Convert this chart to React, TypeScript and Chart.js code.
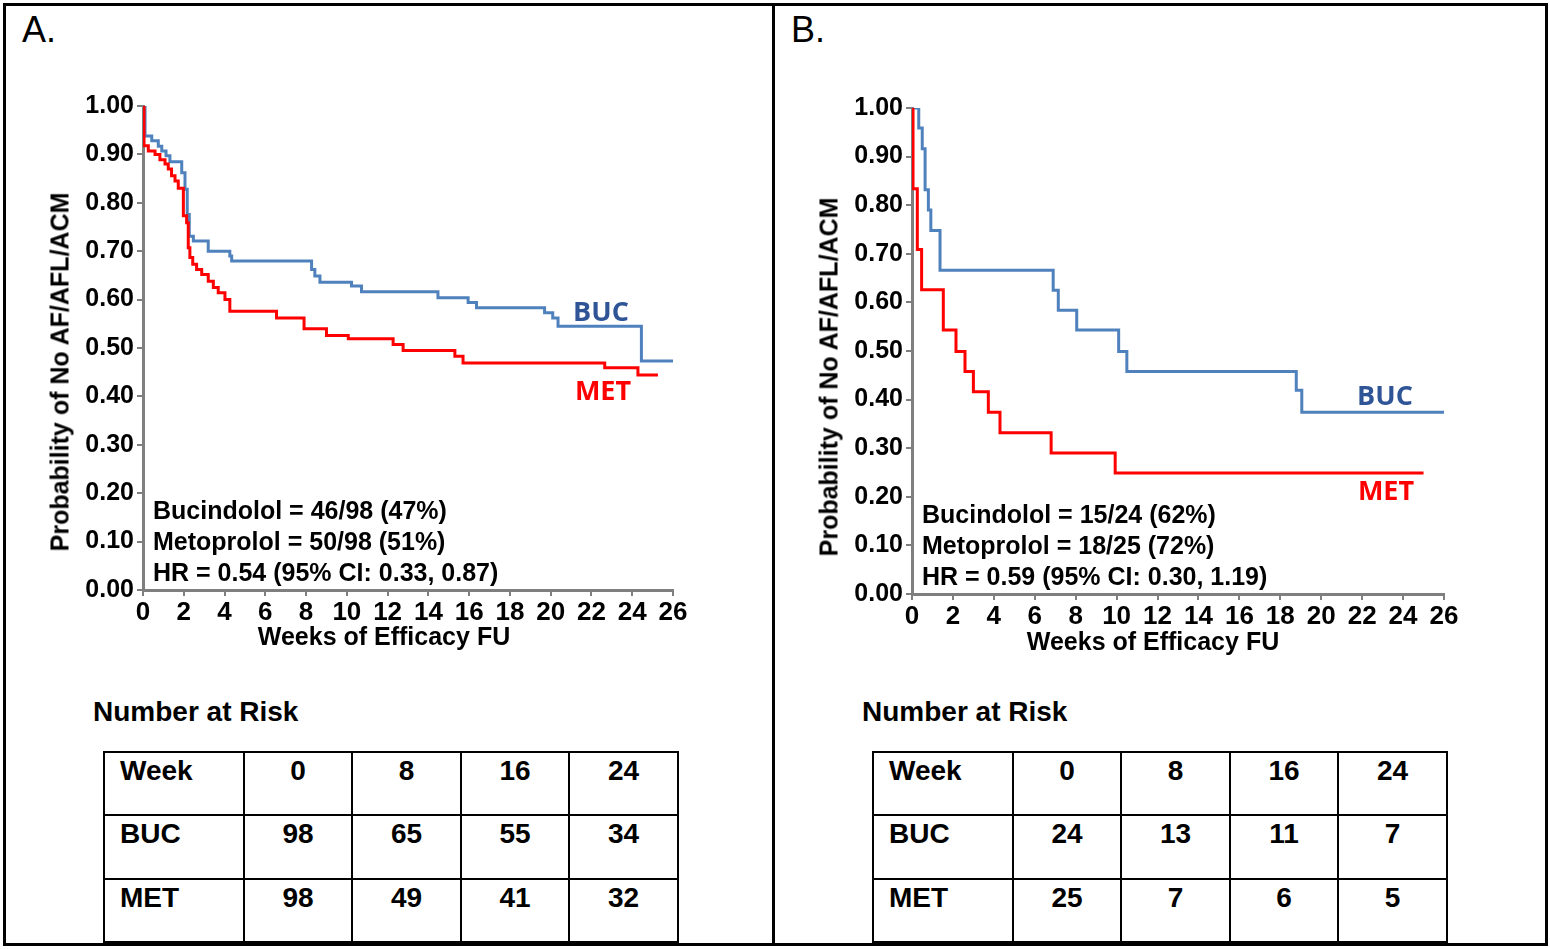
import React, { useEffect, useRef } from 'react';
import { Chart, registerables } from 'chart.js';

Chart.register(...registerables);

// ---------- data ----------
const xTickValues = [0, 2, 4, 6, 8, 10, 12, 14, 16, 18, 20, 22, 24, 26];
const yTickValues = [0, 0.1, 0.2, 0.3, 0.4, 0.5, 0.6, 0.7, 0.8, 0.9, 1.0];
const yTickLabels = ['0.00', '0.10', '0.20', '0.30', '0.40', '0.50', '0.60', '0.70', '0.80', '0.90', '1.00'];

// Panel A: Kaplan-Meier (weeks, survival after event)
const aBucWeeks = [0, 0.1, 0.43, 0.75, 0.92, 1.13, 1.32, 1.9, 2.06, 2.17, 2.27, 2.47, 3.2, 4.26, 4.35, 8.27, 8.43, 8.68, 10.23, 10.72, 14.47, 15.95, 16.36, 19.7, 20.1, 20.36, 24.45, 26.0];
const aBucSurv = [1.0, 0.938, 0.928, 0.917, 0.907, 0.897, 0.885, 0.862, 0.828, 0.776, 0.731, 0.721, 0.7, 0.69, 0.68, 0.662, 0.649, 0.636, 0.628, 0.616, 0.604, 0.594, 0.583, 0.573, 0.562, 0.545, 0.473, 0.473];
const aMetWeeks = [0, 0.05, 0.26, 0.59, 0.83, 1.08, 1.24, 1.4, 1.57, 1.73, 1.98, 2.14, 2.22, 2.3, 2.44, 2.63, 2.88, 3.2, 3.45, 3.69, 4.02, 4.26, 6.55, 7.9, 9.0, 10.07, 12.27, 12.76, 15.3, 15.7, 22.65, 24.28, 25.26];
const aMetSurv = [1.0, 0.918, 0.907, 0.9, 0.889, 0.88, 0.87, 0.856, 0.845, 0.83, 0.773, 0.759, 0.707, 0.687, 0.673, 0.662, 0.652, 0.638, 0.625, 0.614, 0.6, 0.576, 0.562, 0.54, 0.526, 0.519, 0.507, 0.495, 0.483, 0.469, 0.459, 0.444, 0.444];

// Panel B
const bBucWeeks = [0, 0.33, 0.5, 0.64, 0.8, 0.92, 1.37, 6.9, 7.15, 8.05, 10.1, 10.5, 18.78, 19.05, 26.0];
const bBucSurv = [1.0, 0.959, 0.916, 0.832, 0.79, 0.748, 0.666, 0.625, 0.584, 0.543, 0.499, 0.458, 0.419, 0.374, 0.374];
const bMetWeeks = [0, 0.05, 0.26, 0.47, 1.53, 2.15, 2.59, 3.0, 3.73, 4.3, 6.8, 9.93, 25.0];
const bMetSurv = [1.0, 0.834, 0.709, 0.626, 0.543, 0.499, 0.458, 0.416, 0.374, 0.332, 0.29, 0.249, 0.249];

// Number at risk
const riskWeeks = ['0', '8', '16', '24'];
const aRiskBuc = ['98', '65', '55', '34'];
const aRiskMet = ['98', '49', '41', '32'];
const bRiskBuc = ['24', '13', '11', '7'];
const bRiskMet = ['25', '7', '6', '5'];

const aNotes = ['Bucindolol = 46/98 (47%)', 'Metoprolol = 50/98 (51%)', 'HR = 0.54 (95% CI: 0.33, 0.87)'];
const bNotes = ['Bucindolol = 15/24 (62%)', 'Metoprolol = 18/25 (72%)', 'HR = 0.59 (95% CI: 0.30, 1.19)'];

// ---------- styles ----------
const SANS = '"Liberation Sans", Arial, Helvetica, sans-serif';
const LABEL_FONT = '"Open Sans", Lato, "Noto Sans", sans-serif';
const BLUE_LINE = '#4F81BD';
const BLUE_TEXT = '#2F5597';
const RED = '#FF0000';
const AXIS_GRAY = '#7f7f7f';

const LEFT_AXIS = 113;
const PAD_TOP = 26;
const PAD_RIGHT = 37;
const BOTTOM_AXIS = 80;

type Area = { left: number; right: number; top: number; bottom: number };

function KMChart(props: {
  area: Area;
  bucWeeks: number[];
  bucSurv: number[];
  metWeeks: number[];
  metSurv: number[];
}) {
  const { area, bucWeeks, bucSurv, metWeeks, metSurv } = props;
  const ref = useRef<HTMLCanvasElement>(null);
  const w = area.right - area.left + LEFT_AXIS + PAD_RIGHT;
  const h = area.bottom - area.top + PAD_TOP + BOTTOM_AXIS;

  useEffect(() => {
    if (!ref.current) return;
    const chart = new Chart(ref.current, {
      type: 'line',
      data: {
        datasets: [
          {
            label: 'MET',
            data: metWeeks.map((x, i) => ({ x, y: metSurv[i] })),
            borderColor: RED,
            backgroundColor: RED,
            borderWidth: 3,
            stepped: 'before',
            pointRadius: 0,
            fill: false,
          },
          {
            label: 'BUC',
            data: bucWeeks.map((x, i) => ({ x, y: bucSurv[i] })),
            borderColor: BLUE_LINE,
            backgroundColor: BLUE_LINE,
            borderWidth: 3,
            stepped: 'before',
            pointRadius: 0,
            fill: false,
          },
        ],
      },
      options: {
        responsive: false,
        animation: false,
        devicePixelRatio: 1,
        layout: { padding: { left: 0, top: PAD_TOP, right: PAD_RIGHT, bottom: 0 } },
        plugins: {
          legend: { display: false },
          tooltip: { enabled: false },
          title: { display: false },
        },
        scales: {
          x: {
            type: 'linear',
            min: 0,
            max: 26,
            afterBuildTicks: (s: any) => {
              s.ticks = xTickValues.map((v) => ({ value: v }));
            },
            afterFit: (s: any) => {
              s.height = BOTTOM_AXIS;
            },
            ticks: {
              autoSkip: false,
              maxRotation: 0,
              minRotation: 0,
              padding: 1,
              color: '#000',
              font: { family: SANS, size: 26, weight: 'bold' },
            },
            grid: {
              drawOnChartArea: false,
              drawTicks: true,
              tickLength: 6,
              color: AXIS_GRAY,
              lineWidth: 2,
            },
            border: { display: true, color: AXIS_GRAY, width: 3 },
          },
          y: {
            type: 'linear',
            min: 0,
            max: 1,
            afterBuildTicks: (s: any) => {
              s.ticks = yTickValues.map((v) => ({ value: v }));
            },
            afterFit: (s: any) => {
              s.width = LEFT_AXIS;
            },
            ticks: {
              padding: 3,
              color: '#000',
              font: { family: SANS, size: 25, weight: 'bold' },
              callback: (_v: any, i: number) => yTickLabels[i],
            },
            grid: {
              drawOnChartArea: false,
              drawTicks: true,
              tickLength: 6,
              color: AXIS_GRAY,
              lineWidth: 2,
            },
            border: { display: true, color: AXIS_GRAY, width: 3 },
          },
        },
      },
    } as any);
    return () => chart.destroy();
  }, []);

  return (
    <canvas
      ref={ref}
      width={w}
      height={h}
      style={{ position: 'absolute', left: area.left - LEFT_AXIS, top: area.top - PAD_TOP, width: w, height: h }}
    />
  );
}

function Txt(props: {
  x: number;
  y: number;
  text: string;
  size: number;
  weight?: string | number;
  color?: string;
  family?: string;
  anchor?: 'center' | 'left';
  rotate?: boolean;
}) {
  const { x, y, text, size, weight = 'bold', color = '#000', family = SANS, anchor = 'center', rotate = false } = props;
  let transform = anchor === 'center' ? 'translate(-50%, -50%)' : 'translate(0, -50%)';
  if (rotate) transform += ' rotate(-90deg)';
  return (
    <div
      style={{
        position: 'absolute',
        left: x,
        top: y,
        transform,
        fontFamily: family,
        fontSize: size,
        fontWeight: weight as any,
        color,
        lineHeight: 1,
        whiteSpace: 'nowrap',
      }}
    >
      {text}
    </div>
  );
}

function RiskTable(props: { left: number; top: number; buc: string[]; met: string[] }) {
  const { left, top, buc, met } = props;
  const colW = [140, 108, 109, 108, 109];
  const rowH = [63, 64, 63];
  const rows = [['Week', ...riskWeeks], ['BUC', ...buc], ['MET', ...met]];
  return (
    <table
      style={{
        position: 'absolute',
        left,
        top,
        width: 574,
        borderCollapse: 'collapse',
        tableLayout: 'fixed',
      }}
    >
      <colgroup>
        {colW.map((w, i) => (
          <col key={i} style={{ width: w }} />
        ))}
      </colgroup>
      <tbody>
        {rows.map((r, ri) => (
          <tr key={ri} style={{ height: rowH[ri] }}>
            {r.map((c, ci) => (
              <td
                key={ci}
                style={{
                  border: '2px solid #000',
                  padding: ci === 0 ? '2px 0 0 15px' : '2px 0 0 0',
                  textAlign: ci === 0 ? 'left' : 'center',
                  verticalAlign: 'top',
                  fontFamily: SANS,
                  fontWeight: 'bold',
                  fontSize: 28,
                  lineHeight: '32px',
                  color: '#000',
                }}
              >
                {c}
              </td>
            ))}
          </tr>
        ))}
      </tbody>
    </table>
  );
}

function Panel(props: {
  letter: string;
  dx: number;
  dy: number;
  area: Area;
  bucWeeks: number[];
  bucSurv: number[];
  metWeeks: number[];
  metSurv: number[];
  notes: string[];
  riskBuc: string[];
  riskMet: string[];
  bucLabel: [number, number];
  metLabel: [number, number];
  notesY: number[];
}) {
  const p = props;
  const { dx, dy } = p;
  return (
    <>
      <Txt x={22 + dx} y={30} text={p.letter} size={36} weight="normal" anchor="left" />
      <KMChart area={p.area} bucWeeks={p.bucWeeks} bucSurv={p.bucSurv} metWeeks={p.metWeeks} metSurv={p.metSurv} />
      <Txt x={60 + dx} y={372 + dy} text="Probability of No AF/AFL/ACM" size={25} rotate />
      <Txt x={384 + dx} y={636 + dy} text="Weeks of Efficacy FU" size={25} />
      {p.notes.map((n, i) => (
        <Txt key={i} x={153 + dx} y={p.notesY[i]} text={n} size={25} anchor="left" />
      ))}
      <Txt x={p.bucLabel[0]} y={p.bucLabel[1]} text="BUC" size={27} color={BLUE_TEXT} family={LABEL_FONT} />
      <Txt x={p.metLabel[0]} y={p.metLabel[1]} text="MET" size={27} color={RED} family={LABEL_FONT} />
      <Txt x={93 + dx} y={712} text="Number at Risk" size={28} anchor="left" />
      <RiskTable left={103 + dx} top={751} buc={p.riskBuc} met={p.riskMet} />
    </>
  );
}

export default function App() {
  useEffect(() => {
    document.body.style.margin = '0';
  }, []);
  return (
    <div
      style={{
        position: 'absolute',
        left: 0,
        top: 0,
        width: 1550,
        height: 949,
        background: '#fff',
        overflow: 'hidden',
      }}
    >
      <Panel
        letter="A."
        dx={0}
        dy={0}
        area={{ left: 143, right: 673, top: 106, bottom: 590 }}
        bucWeeks={aBucWeeks}
        bucSurv={aBucSurv}
        metWeeks={aMetWeeks}
        metSurv={aMetSurv}
        notes={aNotes}
        notesY={[510, 541, 572]}
        riskBuc={aRiskBuc}
        riskMet={aRiskMet}
        bucLabel={[601, 310]}
        metLabel={[603, 389]}
      />
      <Panel
        letter="B."
        dx={769}
        dy={5}
        area={{ left: 912, right: 1444, top: 108, bottom: 594 }}
        bucWeeks={bBucWeeks}
        bucSurv={bBucSurv}
        metWeeks={bMetWeeks}
        metSurv={bMetSurv}
        notes={bNotes}
        notesY={[514, 545, 576]}
        riskBuc={bRiskBuc}
        riskMet={bRiskMet}
        bucLabel={[1385, 394]}
        metLabel={[1386, 489]}
      />
      {/* outer frame and divider */}
      <div
        style={{
          position: 'absolute',
          left: 3,
          top: 3,
          width: 1545,
          height: 943,
          border: '3px solid #000',
          boxSizing: 'border-box',
          pointerEvents: 'none',
        }}
      />
      <div style={{ position: 'absolute', left: 772, top: 3, width: 3, height: 943, background: '#000' }} />
    </div>
  );
}
